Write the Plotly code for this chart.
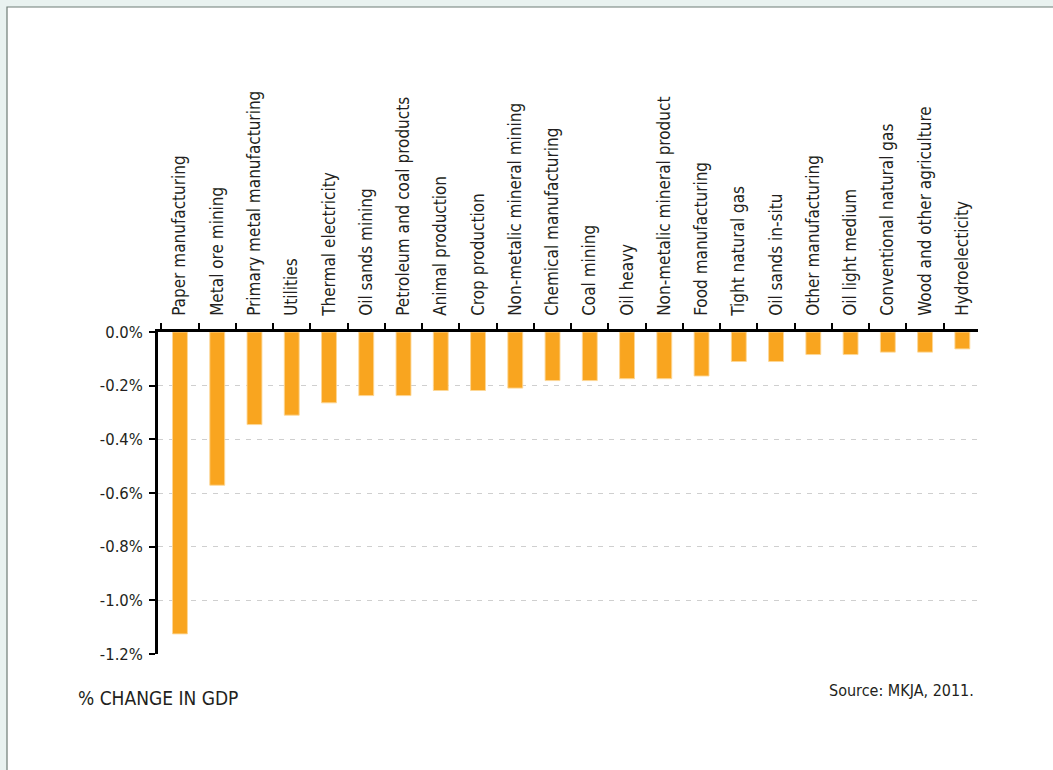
import plotly.graph_objects as go

categories = [
    "Paper manufacturing", "Metal ore mining", "Primary metal manufacturing",
    "Utilities", "Thermal electricity", "Oil sands mining",
    "Petroleum and coal products", "Animal production", "Crop production",
    "Non-metalic mineral mining", "Chemical manufacturing", "Coal mining",
    "Oil heavy", "Non-metalic mineral product", "Food manufacturing",
    "Tight natural gas", "Oil sands in-situ", "Other manufacturing",
    "Oil light medium", "Conventional natural gas", "Wood and other agriculture",
    "Hydroelecticity",
]
values = [
    -1.125, -0.571, -0.345, -0.31, -0.264, -0.237, -0.237, -0.218, -0.218,
    -0.209, -0.181, -0.181, -0.174, -0.174, -0.164, -0.11, -0.11, -0.084,
    -0.084, -0.075, -0.075, -0.063,
]
ytick_vals = [0.0, -0.2, -0.4, -0.6, -0.8, -1.0, -1.2]
ytick_text = ["0.0%", "-0.2%", "-0.4%", "-0.6%", "-0.8%", "-1.0%", "-1.2%"]

W, H = 1053, 770
L, R, T, B = 158, 978, 332, 654
FONT = "DejaVu Sans Condensed, sans-serif"
TXT = "#231f20"


def px(x):
    return (x - L) / (R - L)


def py(y):
    return (B - y) / (B - T)


fig = go.Figure(
    go.Bar(
        x=categories,
        y=values,
        width=0.4,
        marker=dict(color="#f9a51f", line=dict(color="rgba(253,215,150,0.9)", width=1)),
        hoverinfo="x+y",
    )
)

# white panel with border (rounded lower-left corner)
path = (
    f"M {px(7)},{py(7)} L {px(1070)},{py(7)} L {px(1070)},{py(790)} "
    f"L {px(27)},{py(790)} Q {px(7)},{py(790)} {px(7)},{py(770)} Z"
)
fig.add_shape(
    type="path", xref="paper", yref="paper", path=path,
    fillcolor="white", line=dict(color="#6f7c76", width=1.2), layer="below",
)

fig.add_annotation(
    x=px(76), y=py(698), xref="paper", yref="paper", xanchor="left", yanchor="middle",
    text="% CHANGE IN GDP", showarrow=False, font=dict(family=FONT, size=19, color=TXT),
)
fig.add_annotation(
    x=px(976), y=py(690), xref="paper", yref="paper", xanchor="right", yanchor="middle",
    text="Source: MKJA, 2011.", showarrow=False, font=dict(family=FONT, size=16, color=TXT),
)

fig.update_layout(
    width=W, height=H,
    margin=dict(l=L, r=W - R, t=T, b=H - B, pad=0),
    paper_bgcolor="#e9f2f0",
    plot_bgcolor="white",
    showlegend=False,
    font=dict(family=FONT, color=TXT),
    xaxis=dict(
        type="category",
        side="top",
        range=[-0.59, 21.42],
        tickangle=-90,
        tickfont=dict(family=FONT, size=17, color=TXT),
        showline=True, linecolor="black", linewidth=2.5,
        ticks="outside", ticklen=6, tickwidth=2, tickcolor="black",
        tickson="boundaries",
        showgrid=False, zeroline=False,
        ticklabelstandoff=10,
    ),
    yaxis=dict(
        range=[-1.2, 0],
        tickvals=ytick_vals, ticktext=ytick_text,
        tickfont=dict(family=FONT, size=16.5, color=TXT),
        showline=True, linecolor="black", linewidth=2.5,
        ticks="outside", ticklen=6, tickwidth=2, tickcolor="black",
        showgrid=True, gridcolor="#cfcfcf", gridwidth=1, griddash="5px,6px",
        zeroline=False,
        ticklabelstandoff=3,
    ),
)

fig.write_html(
    "out.html",
    config={"displayModeBar": False},
    post_script="document.body.style.margin='0';document.body.style.overflow='hidden';",
)
